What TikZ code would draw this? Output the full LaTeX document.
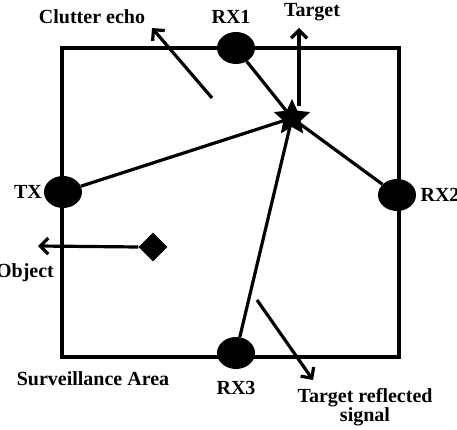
\documentclass[tikz,border=0pt]{standalone}
\usepackage{fontspec}
\setmainfont{Liberation Serif}
\usetikzlibrary{arrows.meta,shapes.geometric}
\tikzset{>={Straight Barb[length=8pt,width=16pt]},every node/.style={font=\bfseries\fontsize{20}{16}\selectfont},
 station/.style={ellipse,fill=black,minimum width=38pt,minimum height=32pt,inner sep=0pt},
 link/.style={line width=3.2pt},ray/.style={line width=3.2pt,->}}

\begin{document}
\begin{tikzpicture}[x=1pt,y=1pt]
\useasboundingbox (0,0) rectangle (457,430);
% surveillance area
\draw[link] (62,382) rectangle (399,73);
\node[station] (rx1) at (236,382) {};
\node[station] (tx) at (63,238) {};
\node[station] (rx2) at (397,235) {};
\node[station] (rx3) at (236,77) {};
\node[star,star points=5,star point ratio=2.1,fill=black,minimum size=38pt,inner sep=0pt] (tgt) at (292,312) {};
\node[diamond,fill=black,minimum size=29pt,inner sep=0pt] (obj) at (153,183) {};
\foreach \s in {tx,rx1,rx2,rx3}\draw[link] (\s) -- (tgt.center);
% echoes
\coordinate (c0) at (212,332);\coordinate (c1) at (152,402);
\coordinate (t1) at (299,402);\coordinate (o1) at (38,184);
\coordinate (r0) at (257,130);\coordinate (r1) at (313,50);
\draw[ray] (c0)--(c1);
\draw[ray] (299,324)--(t1);
\draw[ray] (obj.west)--(o1);
\draw[ray] (r0)--(r1);
% labels
\node (lclut) at (92,413){Clutter echo};
\node (lrx1) at (231,413){RX1};
\node (ltgt) at (312,418){Target};
\node (ltx) at (28,238){TX};
\node (lrx2) at (440,235){RX2};
\node (lobj) at (25,157){Object};
\node (larea) at (93,51){Surveillance Area};
\node (lrx3) at (236,42){RX3};
\node[align=center] (lrefl) at (365,23){Target reflected\\signal};
\end{tikzpicture}
\end{document}
